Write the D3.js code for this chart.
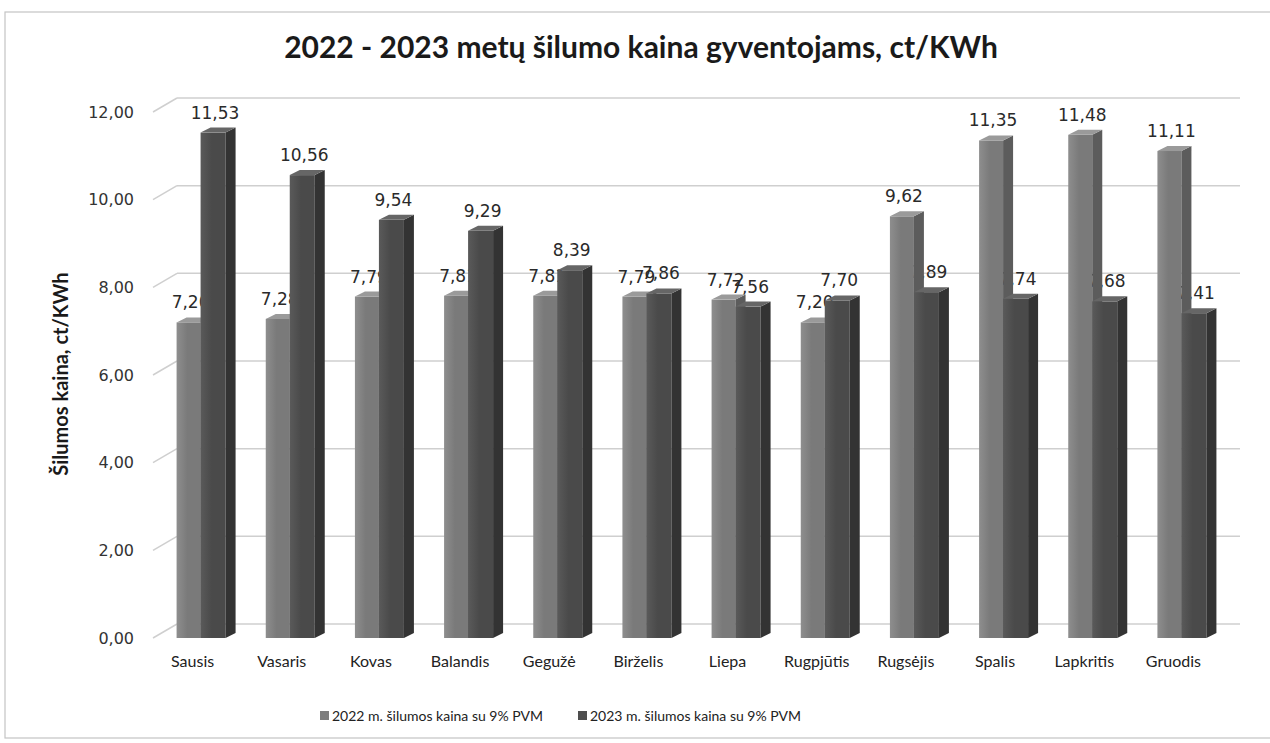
<!DOCTYPE html>
<html lang="lt">
<head>
  <meta charset="UTF-8">
  <title>2022 - 2023 metų šilumos kaina</title>
  <script src="https://d3js.org/d3.v7.min.js"></script>
  <style>
    body{
      margin:0;
      background:white;
    }
    /* Calibri-like text for title, axis title, categories and legend */
    .cal{
      font-family: Lato, "Open Sans", sans-serif;
    }
    .val{
      font-family: "DejaVu Sans", Verdana, sans-serif;
    }
  </style>
</head>
<body>
<div id="chart"></div>
<script>
// chart data
var months = ["Sausis", "Vasaris", "Kovas", "Balandis", "Gegužė", "Birželis",
              "Liepa", "Rugpjūtis", "Rugsėjis", "Spalis", "Lapkritis", "Gruodis"];
var price2022 = [7.20, 7.28, 7.79, 7.81, 7.81, 7.79, 7.72, 7.20, 9.62, 11.35, 11.48, 11.11];
var price2023 = [11.53, 10.56, 9.54, 9.29, 8.39, 7.86, 7.56, 7.70, 7.89, 7.74, 7.68, 7.41];
var yTicks = [0, 2, 4, 6, 8, 10, 12];
var seriesNames = ["2022 m. šilumos kaina su 9% PVM", "2023 m. šilumos kaina su 9% PVM"];

var width = 1270;
var height = 743;
// 3d depth of the bars and the walls
var dx = 10, dy = 5;
var wallDx = 24, wallDy = 14;

// lithuanian number format: comma as decimal mark
var lt = d3.formatLocale({decimal: ",", thousands: " ", grouping: [3], currency: ["", "€"]});
var fmt = lt.format(".2f");

var svg = d3.select("#chart").append("svg")
  .attr("width", width)
  .attr("height", height);

// chart border
svg.append("rect")
  .attr("x", 5).attr("y", 12)
  .attr("width", 1275).attr("height", 726)
  .attr("fill", "none")
  .attr("stroke", "#c4c4c4")
  .attr("stroke-width", 1.2);

// scales
var yScale = d3.scaleLinear()
  .domain([0, 12])
  .range([638, 112]);

var xScale = d3.scaleBand()
  .domain(months)
  .range([148, 1218]);

function center(m){ return xScale(m) + xScale.bandwidth() / 2; }

// shading for the bar fronts
var defs = svg.append("defs");
function grad(id, light, dark){
  var g = defs.append("linearGradient").attr("id", id)
    .attr("x1", "0%").attr("x2", "100%").attr("y1", "0%").attr("y2", "0%");
  g.append("stop").attr("offset", "0%").attr("stop-color", light);
  g.append("stop").attr("offset", "45%").attr("stop-color", dark);
  g.append("stop").attr("offset", "100%").attr("stop-color", dark);
}
grad("g22", "#8e8e8e", "#7a7a7a");
grad("g23", "#5a5a5a", "#4a4a4a");

// grid lines on the back wall plus the short diagonal on the side wall
var grid = svg.append("g");
grid.selectAll(".back")
  .data(yTicks)
  .enter().append("line")
    .attr("x1", 153 + wallDx)
    .attr("x2", 1240)
    .attr("y1", function(d){ return yScale(d) - wallDy; })
    .attr("y2", function(d){ return yScale(d) - wallDy; })
    .attr("stroke", "#cfcfcf")
    .attr("stroke-width", 1.5);
grid.selectAll(".side")
  .data(yTicks)
  .enter().append("line")
    .attr("x1", 153)
    .attr("x2", 153 + wallDx)
    .attr("y1", function(d){ return yScale(d); })
    .attr("y2", function(d){ return yScale(d) - wallDy; })
    .attr("stroke", "#cfcfcf")
    .attr("stroke-width", 1.5);

// y axis tick labels
var yAxis = d3.axisLeft(yScale)
  .tickValues(yTicks)
  .tickSize(0)
  .tickPadding(0)
  .tickFormat(fmt);
svg.append("g")
  .attr("transform", "translate(134,0)")
  .call(yAxis)
  .call(function(g){ g.select(".domain").remove(); })
  .selectAll("text")
    .attr("class", "val")
    .attr("font-size", "16px")
    .attr("fill", "#333");

// x axis category labels
var xAxis = d3.axisBottom(xScale)
  .tickSize(0)
  .tickPadding(0);
svg.append("g")
  .attr("transform", "translate(0,656)")
  .call(xAxis)
  .call(function(g){ g.select(".domain").remove(); })
  .selectAll("text")
    .attr("class", "cal")
    .attr("font-size", "16px")
    .attr("fill", "#222");

// bar geometry for both series
var series = [
  {values: price2022, x0: -16, x1: 8, fill: "url(#g22)", side: "#5c5c5c", top: "#9a9a9a"},
  {values: price2023, x0: 8, x1: 33, fill: "url(#g23)", side: "#333333", top: "#666666"}
];

// value labels go first so the bars cover them, like in the original
series.forEach(function(s){
  svg.append("g").selectAll("text")
    .data(s.values)
    .enter().append("text")
      .attr("class", "val")
      .attr("x", function(d, i){ return center(months[i]) + (s.x0 + s.x1) / 2 + 2; })
      .attr("y", function(d){ return yScale(d) - 14; })
      .attr("text-anchor", "middle")
      .attr("font-size", "17px")
      .attr("fill", "#2a2a2a")
      .text(function(d){ return fmt(d); });
});

// 3d bars: front, right side and top
series.forEach(function(s){
  var g = svg.append("g");
  var bars = g.selectAll("g")
    .data(s.values)
    .enter().append("g");
  bars.append("rect")
    .attr("x", function(d, i){ return center(months[i]) + s.x0; })
    .attr("y", function(d){ return yScale(d); })
    .attr("width", s.x1 - s.x0)
    .attr("height", function(d){ return yScale(0) - yScale(d); })
    .attr("fill", s.fill);
  bars.append("path")
    .attr("fill", s.side)
    .attr("d", function(d, i){
      var xr = center(months[i]) + s.x1, yt = yScale(d), yb = yScale(0);
      return "M" + xr + "," + yt + "L" + (xr + dx) + "," + (yt - dy) +
             "L" + (xr + dx) + "," + (yb - dy) + "L" + xr + "," + yb + "Z";
    });
  bars.append("path")
    .attr("fill", s.top)
    .attr("d", function(d, i){
      var xl = center(months[i]) + s.x0, xr = center(months[i]) + s.x1, yt = yScale(d);
      return "M" + xl + "," + yt + "L" + xr + "," + yt + "L" + (xr + dx) + "," + (yt - dy) +
             "L" + (xl + dx) + "," + (yt - dy) + "Z";
    });
});

// title
svg.append("text")
  .attr("class", "cal")
  .attr("x", 641)
  .attr("y", 58)
  .attr("text-anchor", "middle")
  .attr("font-size", "30px")
  .attr("font-weight", "bold")
  .attr("fill", "#1a1a1a")
  .text("2022 - 2023 metų šilumo kaina gyventojams, ct/KWh");

// y axis title
svg.append("text")
  .attr("class", "cal")
  .attr("transform", "translate(68,374) rotate(-90)")
  .attr("text-anchor", "middle")
  .attr("font-size", "20px")
  .attr("font-weight", "bold")
  .attr("fill", "#1a1a1a")
  .text("Šilumos kaina, ct/KWh");

// legend
var legendX = [320, 578];
var legendFill = ["#7e7e7e", "#4e4e4e"];
var legend = svg.append("g").selectAll("g")
  .data(seriesNames)
  .enter().append("g")
    .attr("transform", function(d, i){ return "translate(" + legendX[i] + ",716)"; });
legend.append("rect")
  .attr("x", 0).attr("y", -5)
  .attr("width", 9).attr("height", 9)
  .attr("fill", function(d, i){ return legendFill[i]; });
legend.append("text")
  .attr("class", "cal")
  .attr("x", 12)
  .attr("y", 5)
  .attr("font-size", "14px")
  .attr("fill", "#222")
  .text(function(d){ return d; });
</script>
</body>
</html>
